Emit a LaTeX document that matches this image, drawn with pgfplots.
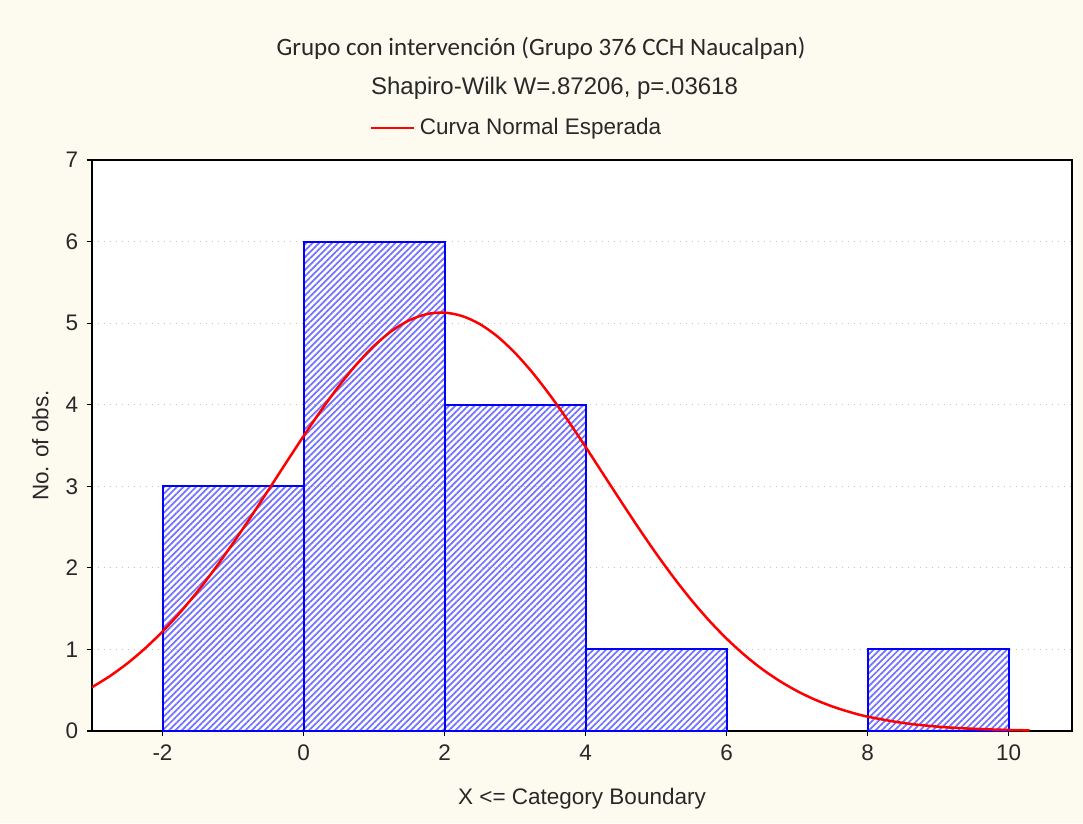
\documentclass[border=0pt]{standalone}
\usepackage{pgfplots}
\pgfplotsset{compat=1.18}
\usepackage{fontspec}
\setmainfont{Liberation Sans}
\newfontfamily\titlefont{Carlito}
\newfontfamily\arialfont{Liberation Sans}
\usetikzlibrary{patterns.meta}
\definecolor{bgcream}{RGB}{253,250,240}
\definecolor{txt}{RGB}{40,40,40}
\begin{document}
\begin{tikzpicture}
\fill[bgcream] (-36.8pt,-36.8pt) rectangle (396.4pt,292.4pt);
\begin{axis}[
  scale only axis,
  width=392pt, height=228.4pt,
  at={(0,0)}, anchor=south west,
  xmin=-3, xmax=10.9, ymin=0, ymax=7,
  axis background/.style={fill=white},
  axis line style={black, line width=1pt},
  xtick={-2,0,2,4,6,8,10},
  xticklabels={-2,0,2,4,6,8,10},
  ytick={0,1,2,3,4,5,6,7},
  yticklabels={0,1,2,3,4,5,6,7},
  xtick pos=bottom, ytick pos=left,
  tick align=outside,
  major tick length=2pt,
  tick style={black, line width=0.5pt},
  ymajorgrids,
  grid style={gray!50, dotted, line width=0.5pt},
  tick label style={font=\arialfont\fontsize{9}{10}\selectfont, text=txt},
  xlabel={X <= Category Boundary},
  ylabel={No. of obs.},
  label style={font=\arialfont\fontsize{9}{10}\selectfont, text=txt},
  xlabel style={yshift=-4pt},
  legend style={at={(rel axis cs:0.4347,1.056)}, anchor=center, draw=none, fill=none,
    font=\arialfont\fontsize{9}{10}\selectfont, text=txt},
  legend cell align=left,
  clip mode=individual,
]
\addplot[ybar, bar width=2, draw=blue, line width=0.8pt,
  pattern={Lines[angle=45,distance=1.8pt,line width=0.7pt]}, pattern color=blue!55,
  forget plot]
  coordinates {(-1,3) (1,6) (3,4) (5,1) (9,1)};
\addplot[red, line width=1pt, smooth] coordinates {
(-3,0.537) (-2.75,0.671) (-2.5,0.828) (-2.25,1.011) (-2,1.219) (-1.75,1.454)
(-1.5,1.714) (-1.25,1.998) (-1,2.302) (-0.75,2.621) (-0.5,2.951) (-0.25,3.285)
(0,3.614) (0.25,3.931) (0.5,4.227) (0.75,4.493) (1,4.721) (1.25,4.904)
(1.5,5.035) (1.75,5.111) (2,5.129) (2.25,5.087) (2.5,4.989) (2.75,4.837)
(3,4.635) (3.25,4.391) (3.5,4.112) (3.75,3.807) (4,3.484) (4.25,3.151)
(4.5,2.819) (4.75,2.492) (5,2.178) (5.25,1.882) (5.5,1.607) (5.75,1.357)
(6,1.133) (6.25,0.935) (6.5,0.762) (6.75,0.615) (7,0.490) (7.25,0.386)
(7.5,0.301) (7.75,0.232) (8,0.176) (8.5,0.099)
(9,0.053) (9.5,0.027) (10,0.013) (10.3,0.008)};
\addlegendentry{Curva Normal Esperada}
\node[font={\titlefont\fontsize{10}{12}\selectfont}, text=txt] at ([xshift=179.6pt,yshift=44.8pt]rel axis cs:0,1) {Grupo con intervención (Grupo 376 CCH Naucalpan)};
\node[font={\arialfont\fontsize{9.6}{11}\selectfont}, text=txt] at ([xshift=185pt,yshift=28.8pt]rel axis cs:0,1) {Shapiro-Wilk W=.87206, p=.03618};
\end{axis}
\end{tikzpicture}
\end{document}
